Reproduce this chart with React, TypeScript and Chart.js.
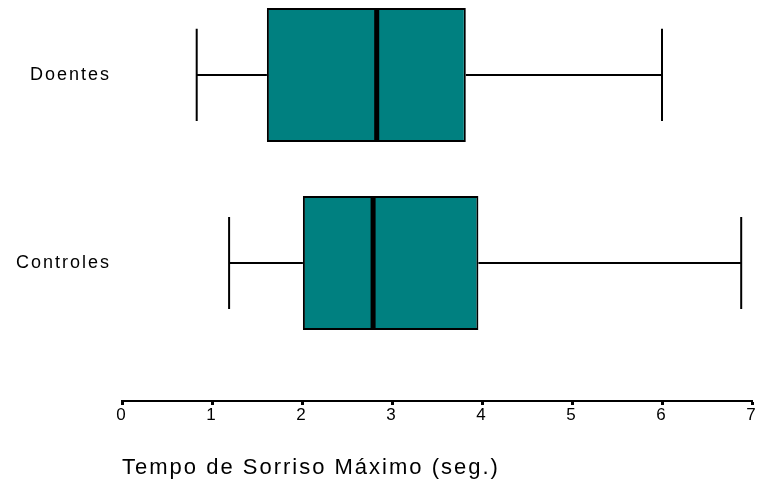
import React, { useEffect, useRef } from "react";
import { Chart, registerables } from "chart.js";

Chart.register(...registerables);

const categories = ["Doentes", "Controles"];
const mins = [0.83, 1.19];
const q1s = [1.61, 2.01];
const medians = [2.83, 2.79];
const q3s = [3.82, 3.96];
const maxs = [6.0, 6.88];
const xTicks = [0, 1, 2, 3, 4, 5, 6, 7];
const xTitle = "Tempo de Sorriso Máximo (seg.)";

const FONT = "'Liberation Sans', Arial, Helvetica, sans-serif";
const TEAL = "#008080";

const boxPlugin = {
  id: "boxWhiskers",
  beforeDraw(chart: any) {
    chart.ctx.letterSpacing = "2px";
  },
  afterDatasetsDraw(chart: any) {
    const ctx = chart.ctx;
    const xs = chart.scales.x;
    const ys = chart.scales.y;
    const meta = chart.getDatasetMeta(0);
    ctx.save();
    ctx.strokeStyle = "#000";
    categories.forEach((_, i) => {
      const pos = categories.length - i;
      const yc = ys.getPixelForValue(pos);
      const capTop = ys.getPixelForValue(pos + 0.245);
      const capBot = ys.getPixelForValue(pos - 0.245);
      const xMin = xs.getPixelForValue(mins[i]);
      const xQ1 = xs.getPixelForValue(q1s[i]);
      const xQ3 = xs.getPixelForValue(q3s[i]);
      const xMax = xs.getPixelForValue(maxs[i]);
      const xMed = xs.getPixelForValue(medians[i]);
      ctx.lineWidth = 2;
      ctx.beginPath();
      ctx.moveTo(xMin, yc);
      ctx.lineTo(xQ1, yc);
      ctx.moveTo(xQ3, yc);
      ctx.lineTo(xMax, yc);
      ctx.moveTo(xMin, capTop);
      ctx.lineTo(xMin, capBot);
      ctx.moveTo(xMax, capTop);
      ctx.lineTo(xMax, capBot);
      ctx.stroke();
      const el = meta.data[i];
      const h = el.height;
      ctx.lineWidth = 5;
      ctx.beginPath();
      ctx.moveTo(xMed, el.y - h / 2);
      ctx.lineTo(xMed, el.y + h / 2);
      ctx.stroke();
    });
    ctx.restore();
  },
};

export default function App() {
  const ref = useRef<HTMLCanvasElement | null>(null);
  useEffect(() => {
    if (!ref.current) return;
    const data = categories.map((_, i) => ({
      x: [q1s[i], q3s[i]],
      y: categories.length - i,
    }));
    const chart = new Chart(ref.current, {
      type: "bar",
      data: {
        datasets: [
          {
            data: data as any,
            backgroundColor: TEAL,
            borderColor: "#000",
            borderWidth: 2,
            borderSkipped: false,
            categoryPercentage: 1,
            barPercentage: 0.713,
          },
        ],
      },
      options: {
        indexAxis: "y",
        responsive: false,
        animation: false,
        events: [],
        layout: { padding: { top: 8, right: 8, left: 0, bottom: 0 } },
        plugins: {
          legend: { display: false },
          tooltip: { enabled: false },
        },
        scales: {
          x: {
            type: "linear",
            min: xTicks[0],
            max: xTicks[xTicks.length - 1],
            afterBuildTicks: (s: any) => {
              s.ticks = xTicks.map((v) => ({ value: v }));
            },
            afterFit: (s: any) => {
              s.height = 82;
            },
            grid: {
              display: true,
              drawOnChartArea: false,
              drawTicks: true,
              tickLength: 4,
              tickWidth: 3,
              tickColor: "#000",
            },
            border: { display: true, color: "#000", width: 2 },
            ticks: {
              color: "#000",
              padding: 0,
              font: { family: FONT, size: 17 },
            },
            title: {
              display: true,
              text: xTitle,
              align: "start",
              color: "#000",
              font: { family: FONT, size: 22 },
              padding: { top: 0, bottom: 2 },
            },
          },
          y: {
            type: "linear",
            offset: false,
            min: 0.266,
            max: 2.356,
            afterBuildTicks: (s: any) => {
              s.ticks = categories.map((_, i) => ({ value: categories.length - i }));
            },
            afterFit: (s: any) => {
              s.width = 122;
              s.paddingTop = 0;
              s.paddingBottom = 0;
            },
            grid: { display: false, drawTicks: false },
            border: { display: false },
            ticks: {
              color: "#000",
              padding: 11,
              font: { family: FONT, size: 18 },
              callback: (v: any) => {
                const idx = categories.length - Number(v);
                return categories[idx] ?? "";
              },
            },
          },
        },
      },
      plugins: [boxPlugin],
    } as any);
    return () => chart.destroy();
  }, []);
  return (
    <div style={{ position: "fixed", left: 0, top: 0, width: 760, height: 483, background: "#fff" }}>
      <canvas ref={ref} width={760} height={483} />
    </div>
  );
}
